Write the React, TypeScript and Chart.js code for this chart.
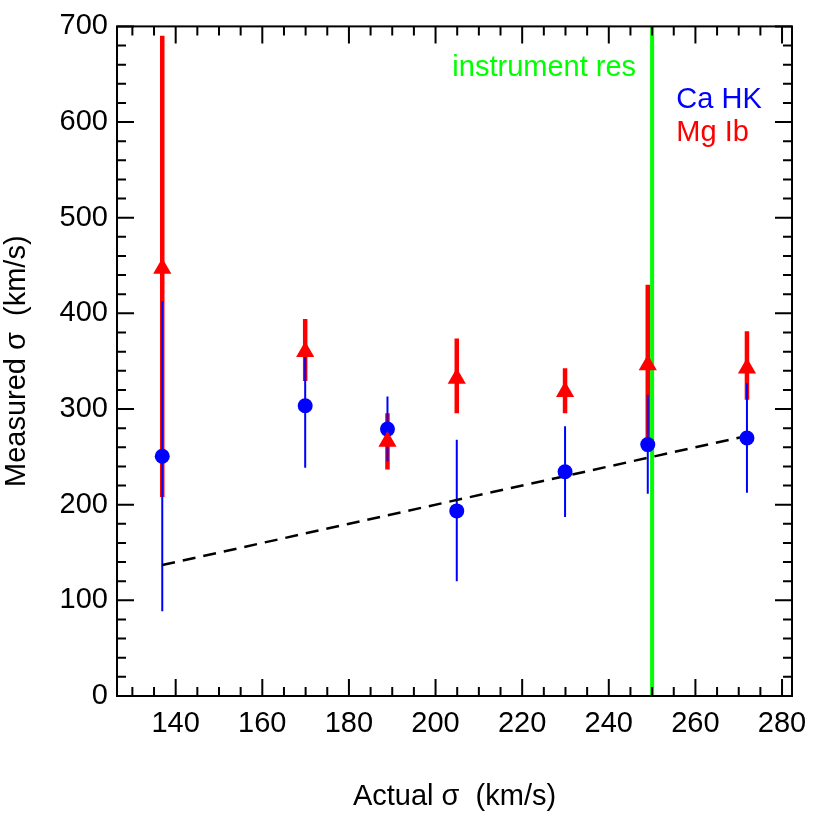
import React, { useEffect, useRef } from 'react';
import { Chart, registerables } from 'chart.js';

Chart.register(...registerables);

// ---- data ----
const actualSigma = [136.9, 169.9, 188.9, 204.9, 229.9, 249.0, 271.9];
const caHK = [250.7, 303.4, 279.0, 193.5, 234.4, 262.8, 269.7];
const caHKLow = [88.7, 238.5, 245.5, 120.0, 187.2, 211.5, 212.5];
const caHKHigh = [413.0, 362.0, 313.0, 268.0, 281.9, 314.9, 327.0];
const mgIb = [447.0, 360.0, 266.0, 332.0, 318.0, 346.0, 342.5];
const mgIbLow = [208.0, 329.4, 236.8, 295.7, 295.7, 270.0, 309.6];
const mgIbHigh = [690.3, 394.0, 295.7, 373.7, 342.5, 429.9, 381.4];
const instrumentRes = 250;
const xTickValues = [140, 160, 180, 200, 220, 240, 260, 280];
const yTickValues = [0, 100, 200, 300, 400, 500, 600, 700];
const xMinorStep = 5;
const yMinorStep = 20;

const X_MIN = 126.45;
const X_MAX = 282.3;
const Y_MIN = 0;
const Y_MAX = 700;

const FONT = '"Liberation Sans", Arial, Helvetica, sans-serif';
const FS = 29;

const overlayPlugin = {
  id: 'overlay',
  beforeDatasetsDraw(chart: any) {
    const { ctx, chartArea: a, scales } = chart;
    const x = scales.x;
    const y = scales.y;
    ctx.save();
    ctx.beginPath();
    ctx.rect(a.left, a.top, a.right - a.left, a.bottom - a.top);
    ctx.clip();
    // instrument resolution line
    const gx = x.getPixelForValue(instrumentRes);
    ctx.strokeStyle = '#00ff00';
    ctx.lineWidth = 4;
    ctx.beginPath();
    ctx.moveTo(gx, a.top);
    ctx.lineTo(gx, a.bottom);
    ctx.stroke();
    // Mg Ib error bars
    ctx.strokeStyle = '#ff0000';
    ctx.lineWidth = 4.5;
    actualSigma.forEach((v, i) => {
      const px = x.getPixelForValue(v);
      ctx.beginPath();
      ctx.moveTo(px, y.getPixelForValue(mgIbLow[i]));
      ctx.lineTo(px, y.getPixelForValue(mgIbHigh[i]));
      ctx.stroke();
    });
    // Ca HK error bars
    ctx.strokeStyle = '#0000ff';
    ctx.lineWidth = 2;
    actualSigma.forEach((v, i) => {
      const px = x.getPixelForValue(v);
      ctx.beginPath();
      ctx.moveTo(px, y.getPixelForValue(caHKLow[i]));
      ctx.lineTo(px, y.getPixelForValue(caHKHigh[i]));
      ctx.stroke();
    });
    ctx.restore();
  },
  afterDatasetsDraw(chart: any) {
    const { ctx, chartArea: a, scales } = chart;
    const x = scales.x;
    const y = scales.y;
    ctx.save();
    // frame
    ctx.strokeStyle = '#000';
    ctx.lineWidth = 2;
    ctx.strokeRect(a.left, a.top, a.right - a.left, a.bottom - a.top);
    // x ticks
    const major = 17;
    const minor = 9;
    ctx.beginPath();
    const xStart = Math.ceil(X_MIN / xMinorStep) * xMinorStep;
    for (let v = xStart; v <= X_MAX + 1e-9; v += xMinorStep) {
      const px = x.getPixelForValue(v);
      const len = xTickValues.includes(v) ? major : minor;
      ctx.moveTo(px, a.bottom);
      ctx.lineTo(px, a.bottom - len);
      ctx.moveTo(px, a.top);
      ctx.lineTo(px, a.top + len);
    }
    for (let v = Y_MIN; v <= Y_MAX + 1e-9; v += yMinorStep) {
      const py = y.getPixelForValue(v);
      const len = yTickValues.includes(v) ? major : minor;
      ctx.moveTo(a.left, py);
      ctx.lineTo(a.left + len, py);
      ctx.moveTo(a.right, py);
      ctx.lineTo(a.right - len, py);
    }
    ctx.stroke();
    // annotations
    ctx.font = `${FS}px ${FONT}`;
    ctx.textBaseline = 'alphabetic';
    ctx.textAlign = 'right';
    ctx.fillStyle = '#00ff00';
    ctx.fillText('instrument res', x.getPixelForValue(246.3), y.getPixelForValue(648));
    ctx.textAlign = 'left';
    ctx.fillStyle = '#0000ff';
    ctx.fillText('Ca HK', x.getPixelForValue(255.6), y.getPixelForValue(614.7));
    ctx.fillStyle = '#ff0000';
    ctx.fillText('Mg Ib', x.getPixelForValue(255.6), y.getPixelForValue(580));
    ctx.restore();
  },
};

export default function App() {
  const ref = useRef<HTMLCanvasElement | null>(null);
  useEffect(() => {
    document.body.style.margin = '0';
    const canvas = ref.current;
    if (!canvas) return;
    const font = { family: FONT, size: FS };
    const chart = new Chart(canvas, {
      type: 'scatter',
      data: {
        datasets: [
          {
            label: 'Mg Ib',
            data: actualSigma.map((v, i) => ({ x: v, y: mgIb[i] })),
            pointStyle: 'triangle',
            pointRadius: 10.5,
            backgroundColor: '#ff0000',
            borderColor: '#ff0000',
            borderWidth: 0,
          },
          {
            label: 'Ca HK',
            data: actualSigma.map((v, i) => ({ x: v, y: caHK[i] })),
            pointStyle: 'circle',
            pointRadius: 7.5,
            backgroundColor: '#0000ff',
            borderColor: '#0000ff',
            borderWidth: 0,
          },
          {
            label: 'one-to-one',
            type: 'line',
            data: [
              { x: actualSigma[0], y: actualSigma[0] },
              { x: actualSigma[actualSigma.length - 1], y: actualSigma[actualSigma.length - 1] },
            ],
            borderColor: '#000',
            borderWidth: 2.5,
            borderDash: [13, 8],
            pointRadius: 0,
            fill: false,
          } as any,
        ],
      },
      options: {
        animation: false,
        responsive: false,
        layout: { padding: { left: 0, right: 38, top: 23, bottom: 0 } },
        plugins: { legend: { display: false }, tooltip: { enabled: false } },
        scales: {
          x: {
            type: 'linear',
            min: X_MIN,
            max: X_MAX,
            grid: { display: false, drawTicks: false },
            border: { display: false },
            afterBuildTicks: (s: any) => {
              s.ticks = xTickValues.map((v) => ({ value: v }));
            },
            afterFit: (s: any) => {
              s.height = 124;
            },
            ticks: { font, color: '#000', padding: 11, maxRotation: 0, autoSkip: false },
            title: {
              display: true,
              text: 'Actual σ  (km/s)',
              font,
              color: '#000',
              padding: { top: 0, bottom: 6 },
            },
          },
          y: {
            type: 'linear',
            min: Y_MIN,
            max: Y_MAX,
            grid: { display: false, drawTicks: false },
            border: { display: false },
            afterBuildTicks: (s: any) => {
              s.ticks = yTickValues.map((v) => ({ value: v }));
            },
            afterFit: (s: any) => {
              s.width = 117;
            },
            ticks: { font, color: '#000', padding: 9, autoSkip: false },
            title: {
              display: true,
              text: 'Measured σ  (km/s)',
              font,
              color: '#000',
              padding: { top: 0, bottom: 0 },
            },
          },
        },
      },
      plugins: [overlayPlugin],
    } as any);
    return () => chart.destroy();
  }, []);
  return <canvas ref={ref} width={830} height={820} style={{ display: 'block' }} />;
}
